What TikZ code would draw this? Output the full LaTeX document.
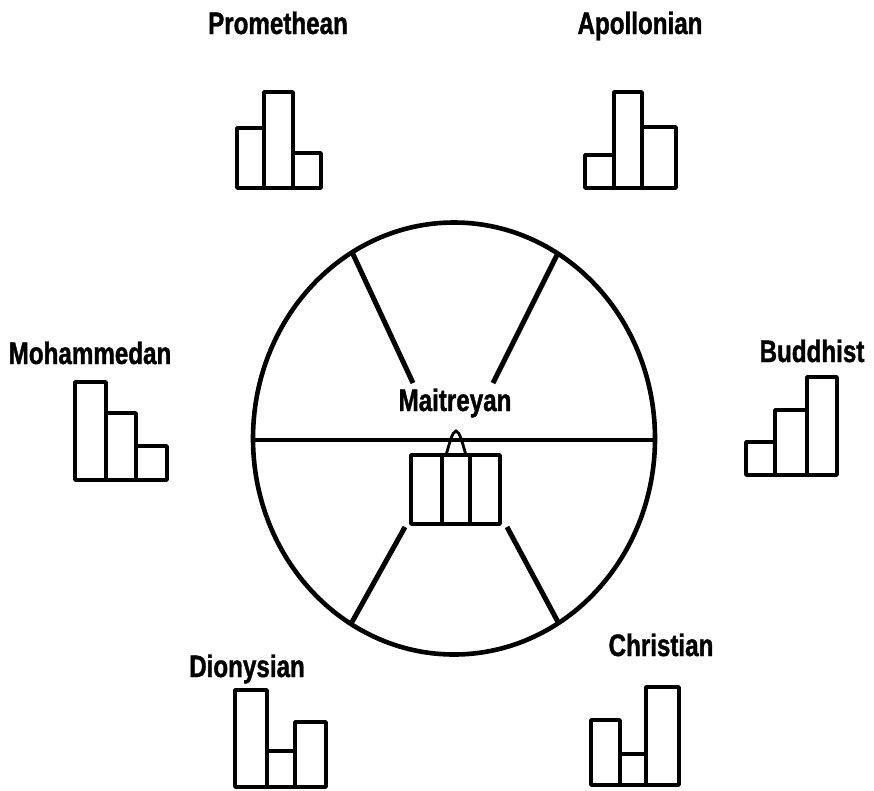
\documentclass[tikz,border=0pt]{standalone}
\usepackage{fontspec}
\newfontfamily\labfont{Liberation Sans}[FakeStretch=0.78,FakeBold=1.2]
\begin{document}
\begin{tikzpicture}[x=1pt,y=-1pt,
  lab/.style={font=\labfont\bfseries\fontsize{31}{31}\selectfont, anchor=base, inner sep=0pt},
  bar/.style={draw, line width=3.6pt, line join=round},
  ring/.style={draw, line width=4.6pt},
  spoke/.style={draw, line width=5pt}]
\useasboundingbox (0,0) rectangle (874,790);
\fill[white] (0,0) rectangle (874,790);

% labels
\node[lab] (prom) at (278,34) {Promethean};
\node[lab] (apol) at (640,34) {Apollonian};
\node[lab] (moha) at (90,364) {Mohammedan};
\node[lab] (budd) at (812,362) {Buddhist};
\node[lab] (dion) at (247,677) {Dionysian};
\node[lab] (chri) at (661,656) {Christian};
\node[lab] (mait) at (455,411) {Maitreyan};

% Promethean bars
\draw[bar] (237,188) rectangle (264,128);
\draw[bar] (264,188) rectangle (293,92);
\draw[bar] (293,188) rectangle (321,153);
% Apollonian bars
\draw[bar] (585,188) rectangle (614,155);
\draw[bar] (614,188) rectangle (642,92);
\draw[bar] (642,188) rectangle (676,127);
% Mohammedan bars
\draw[bar] (75,480) rectangle (106,382);
\draw[bar] (106,480) rectangle (136,413);
\draw[bar] (136,480) rectangle (167,446);
% Buddhist bars
\draw[bar] (746,475) rectangle (775,442);
\draw[bar] (775,475) rectangle (807,410);
\draw[bar] (807,475) rectangle (837,377);
% Dionysian bars
\draw[bar] (235,787) rectangle (267,690);
\draw[bar] (267,787) rectangle (295,751);
\draw[bar] (295,787) rectangle (326,722);
% Christian bars
\draw[bar] (591,785) rectangle (620,720);
\draw[bar] (620,785) rectangle (646,754);
\draw[bar] (646,785) rectangle (679,687);

% wheel
\coordinate (c) at (454,438.5);
\draw[ring] (c) ellipse [x radius=201, y radius=216];
\coordinate (hl) at (253,440);
\coordinate (hr) at (655,440);
\draw[ring] (hl) -- (hr);

\coordinate (s1o) at (352,252); \coordinate (s1i) at (413,383);
\coordinate (s2o) at (558,253); \coordinate (s2i) at (493,383);
\coordinate (s3o) at (352,622); \coordinate (s3i) at (405,527);
\coordinate (s4o) at (558,622); \coordinate (s4i) at (507,527);
\draw[spoke] (s1o) -- (s1i);
\draw[spoke] (s2o) -- (s2i);
\draw[spoke] (s3o) -- (s3i);
\draw[spoke] (s4o) -- (s4i);

% Maitreyan box
\draw[bar] (411,455) rectangle (500,524);
\draw[bar] (442,455) -- (442,524);
\draw[bar] (470,455) -- (470,524);
\draw[line width=2.8pt] (446,455) .. controls (450,442) and (452,432) .. (456,431)
  .. controls (460,432) and (462,442) .. (466,455);
\end{tikzpicture}
\end{document}
